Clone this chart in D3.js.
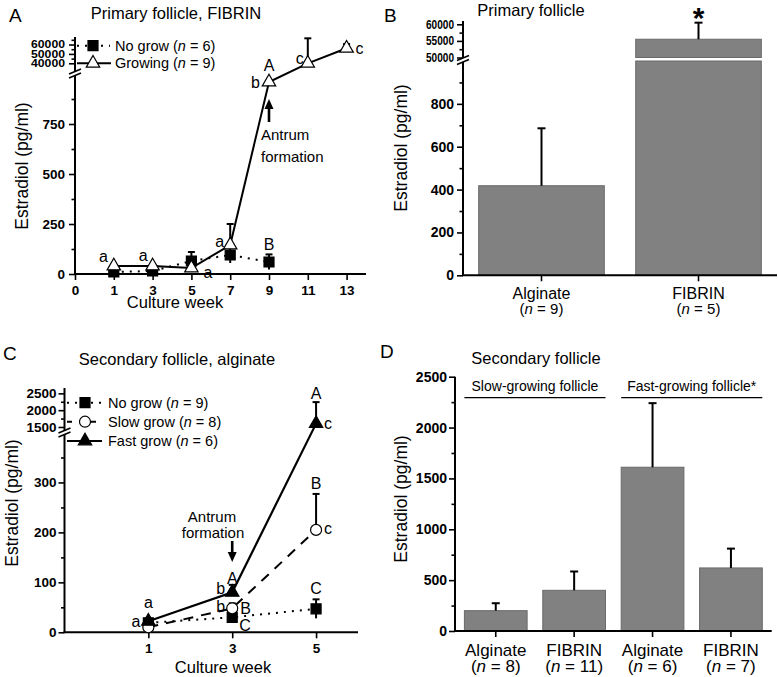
<!DOCTYPE html>
<html><head><meta charset="utf-8">
<script src="https://cdn.jsdelivr.net/npm/d3@7"></script>
<style>
body{margin:0;background:#fff;}
svg text{font-family:'Liberation Sans',Arial,sans-serif;fill:#000;}
</style></head><body>
<svg id="c" width="778" height="677"></svg>
<script>
// ---------- Panel A data ----------
const weeksA = [1,3,5,7,9,11,13];
const growingA = [40,40,30,145,960,40000,56000];
const growingAErr = [6,6,6,105,0,26600,4500];
const weeksANoGrow = [1,3,5,7,9];
const noGrowA = [10,15,65,95,60];
const noGrowAErr = [5,5,45,40,38];
const xTicksA = [-1,1,3,5,7,9,11,13];
const xTickLabelsA = ["0","1","3","5","7","9","11","13"];
const yLowTicksA = [0,250,500,750];
const yLowMinorA = [125,375,625,875];
const yUpTicksA = [40000,50000,60000];
const yUpMinorA = [45000,55000,65000];
const lettersA = [
  {t:"a", w:1, v:40, dx:-6, dy:-4, a:"end"},
  {t:"a", w:3, v:40, dx:-5, dy:-5, a:"end"},
  {t:"a", w:5, v:30, dx:12, dy:10, a:"start"},
  {t:"a", w:7, v:145, dx:-6, dy:2, a:"end"},
  {t:"B", w:9, v:60, dx:0, dy:-12, a:"middle"},
  {t:"A", w:9, v:960, dx:0, dy:-11, a:"middle"},
  {t:"b", w:9, v:960, dx:-9, dy:6, a:"end"},
  {t:"c", w:11, v:40000, dx:-4, dy:1, a:"end"},
  {t:"c", w:13, v:56000, dx:9, dy:6, a:"start"}
];

// ---------- Panel B data ----------
const catB = ["Alginate","FIBRIN"];
const nB = [9,5];
const valB = [418,55500];
const errB = [268,5000];
const yLowTicksB = [0,200,400,600,800];
const yLowMinorB = [100,300,500,700,900];
const yUpTicksB = [50000,55000,60000];
const yUpMinorB = [52500,57500];

// ---------- Panel C data ----------
const weeksC = [1,3,5];
const noGrowC = [19,30,47];
const noGrowCErr = [3,5,19];
const slowC = [10,48,205];
const slowCErr = [3,10,72];
const fastC = [22,80,1600];
const fastCErr = [4,15,640];
const xTicksC = [1,3,5];
const yLowTicksC = [0,100,200,300];
const yLowMinorC = [50,150,250,350];
const yUpTicksC = [1500,2000,2500];
const yUpMinorC = [1750,2250];
const lettersC = [
  {t:"a", w:1, v:22, dx:0, dy:-13, a:"middle"},
  {t:"a", w:1, v:10, dx:-8, dy:0, a:"end"},
  {t:"A", w:3, v:80, dx:0, dy:-8, a:"middle"},
  {t:"b", w:3, v:80, dx:-7, dy:2, a:"end"},
  {t:"b", w:3, v:48, dx:-7, dy:4, a:"end"},
  {t:"B", w:3, v:48, dx:8, dy:6, a:"start"},
  {t:"C", w:3, v:30, dx:7, dy:14, a:"start"},
  {t:"A", w:5, v:2240, dx:0, dy:-3, a:"middle"},
  {t:"c", w:5, v:1600, dx:8, dy:5, a:"start"},
  {t:"B", w:5, v:277, dx:0, dy:-5, a:"middle"},
  {t:"c", w:5, v:205, dx:8, dy:4, a:"start"},
  {t:"C", w:5, v:67, dx:0, dy:-5, a:"middle"}
];

// ---------- Panel D data ----------
const catD = ["Alginate","FIBRIN","Alginate","FIBRIN"];
const nD = [8,11,6,7];
const valD = [200,400,1610,620];
const errD = [73,185,630,190];
const groupsD = ["Slow-growing follicle","Fast-growing follicle*"];
const yTicksD = [0,500,1000,1500,2000,2500];
const yMinorD = [250,750,1250,1750,2250];

// ---------- helpers ----------
const FONT = "'Liberation Sans',Arial,sans-serif";
const svg = d3.select("#c");
svg.append("rect").attr("width",778).attr("height",677).attr("fill","#fff");

function styleAxis(sel, fs){
  sel.select(".domain").remove();
  sel.selectAll(".tick line").attr("stroke","#000").attr("stroke-width",1.6);
  sel.selectAll(".tick text").attr("font-size",fs).attr("font-weight","bold")
    .attr("font-family",FONT).attr("fill","#000");
}
function yAx(x0, scale, ticks, minor, fs, pad, tlen){
  const a = svg.append("g").attr("transform",`translate(${x0},0)`)
    .call(d3.axisLeft(scale).tickValues(ticks).tickSize(6).tickPadding(pad).tickFormat(d3.format("d")));
  styleAxis(a, fs);
  if(tlen) a.selectAll(".tick text").attr("textLength",tlen).attr("lengthAdjust","spacingAndGlyphs");
  if(minor){
    const m = svg.append("g").attr("transform",`translate(${x0},0)`)
      .call(d3.axisLeft(scale).tickValues(minor).tickSize(3.5).tickFormat(""));
    styleAxis(m, fs);
  }
  return a;
}
function line(x1,y1,x2,y2,w){
  return svg.append("line").attr("x1",x1).attr("y1",y1).attr("x2",x2).attr("y2",y2)
    .attr("stroke","#000").attr("stroke-width",w||2);
}
function breakMark(x,y){
  svg.append("polygon").attr("points",`${x-6},${y+1} ${x+6},${y-4} ${x+6},${y} ${x-6},${y+5}`).attr("fill","#fff");
  line(x-6,y+1,x+6,y-4,1.5);
  line(x-6,y+5,x+6,y,1.5);
}
function txt(x,y,s,fs,anchor,opts){
  const t = svg.append("text").attr("x",x).attr("y",y).attr("font-size",fs)
    .attr("text-anchor",anchor||"start").text(s);
  if(opts&&opts.bold) t.attr("font-weight","bold");
  return t;
}
function rotTxt(x,y,s,fs){
  svg.append("text").attr("transform",`translate(${x},${y}) rotate(-90)`)
    .attr("font-size",fs).attr("text-anchor","middle").text(s);
}
function nText(x,y,name,n,fs,anchor){
  const t = svg.append("text").attr("x",x).attr("y",y).attr("font-size",fs).attr("text-anchor",anchor||"start");
  if(name) t.append("tspan").text(name+" (");
  else t.append("tspan").text("(");
  t.append("tspan").attr("font-style","italic").text("n");
  t.append("tspan").text(" = "+n+")");
}
function errBar(x,y0,y1,cap){
  line(x,y0,x,y1,2);
  line(x-cap/2,y1,x+cap/2,y1,2);
}
function marker(type,x,y,fill){
  let sym, size;
  if(type==="square"){sym=d3.symbolSquare;size=100;}
  else if(type==="triangle"){sym=d3.symbolTriangle;size=78;}
  else {sym=d3.symbolCircle;size=95;}
  svg.append("path").attr("d",d3.symbol().type(sym).size(size)())
    .attr("transform",`translate(${x},${y})`)
    .attr("fill",fill).attr("stroke","#000").attr("stroke-width",1.2);
}
function arrow(x,yTail,yHead){
  const dir = yHead<yTail ? -1 : 1;
  line(x,yTail,x,yHead-dir*8,2.6);
  svg.append("path").attr("d",`M${x},${yHead} L${x-4.5},${yHead-dir*10} L${x+4.5},${yHead-dir*10} Z`).attr("fill","#000");
}

// ============ PANEL A ============
{
  const x = d3.scaleLinear().domain([-1,14]).range([75,366]);
  const yLow = d3.scaleLinear().domain([0,980]).range([274,78]);
  const yUp = d3.scaleLinear().domain([35000,68000]).range([68,37]);
  const y = v => v>980 ? yUp(v) : yLow(v);

  txt(9,22,"A",19);
  txt(176,18.5,"Primary follicle, FIBRIN",16.5,"middle");

  line(75,37,75,274,2);
  line(74,274,366,274,2);
  yAx(75,yLow,yLowTicksA,yLowMinorA,13.5,4);
  yAx(75,yUp,yUpTicksA,yUpMinorA,10.5,4,34);
  breakMark(75,73);
  const xa = svg.append("g").attr("transform","translate(0,274)")
    .call(d3.axisBottom(x).tickValues(xTicksA).tickSize(6).tickPadding(5).tickFormat((d,i)=>xTickLabelsA[i]));
  styleAxis(xa,13.5);
  txt(175,308,"Culture week",16.5,"middle");
  rotTxt(28,166,"Estradiol (pg/ml)",17.5);

  weeksANoGrow.forEach((w,i)=>{ errBar(x(w),y(noGrowA[i]-noGrowAErr[i]),y(noGrowA[i]+noGrowAErr[i]),7); });
  weeksA.forEach((w,i)=>{ if(growingAErr[i]>0) errBar(x(w),y(growingA[i]),y(growingA[i]+growingAErr[i]),7); });

  const ln = d3.line().x(d=>x(d[0])).y(d=>y(d[1]));
  svg.append("path").attr("d",ln(weeksANoGrow.map((w,i)=>[w,noGrowA[i]])))
    .attr("fill","none").attr("stroke","#000").attr("stroke-width",2).attr("stroke-dasharray","2,6");
  svg.append("path").attr("d",ln(weeksA.map((w,i)=>[w,growingA[i]])))
    .attr("fill","none").attr("stroke","#000").attr("stroke-width",2);
  weeksANoGrow.forEach((w,i)=>marker("square",x(w),y(noGrowA[i]),"#000"));
  weeksA.forEach((w,i)=>marker("triangle",x(w),y(growingA[i]),"#fff"));

  lettersA.forEach(L=>txt(x(L.w)+L.dx,y(L.v)+L.dy,L.t,16,L.a));

  arrow(x(9),122,99);
  txt(261,140,"Antrum",15);
  txt(261,161.5,"formation",15);

  line(77,45.7,110,45.7,2).attr("stroke-dasharray","2,6");
  marker("square",93,45.7,"#000");
  nText(115,50.7,"No grow",6,14.5);
  line(77,63.3,111,63.3,2);
  marker("triangle",93,63.3,"#fff");
  nText(115,68.3,"Growing",9,14.5);
}

// ============ PANEL B ============
{
  const x = d3.scaleBand().domain(catB).range([463,777]).paddingInner(0.2).paddingOuter(0.1);
  const yLow = d3.scaleLinear().domain([0,1000]).range([275.3,61]);
  const yUp = d3.scaleLinear().domain([50000,61000]).range([57.5,21]);
  const y = v => v>1000 ? yUp(v) : yLow(v);

  txt(384,22,"B",19);
  txt(531,16,"Primary follicle",16.5,"middle");

  catB.forEach((c,i)=>{
    const v = valB[i], x0 = x(c), bw = x.bandwidth();
    if(v>1000){
      svg.append("rect").attr("x",x0).attr("y",yLow.range()[1]).attr("width",bw)
        .attr("height",yLow(0)-yLow.range()[1]).attr("fill","#818181").attr("stroke","#6a6a6a");
      svg.append("rect").attr("x",x0).attr("y",yUp(v)).attr("width",bw)
        .attr("height",yUp.range()[0]-yUp(v)).attr("fill","#818181").attr("stroke","#6a6a6a");
    } else {
      svg.append("rect").attr("x",x0).attr("y",yLow(v)).attr("width",bw)
        .attr("height",yLow(0)-yLow(v)).attr("fill","#818181").attr("stroke","#6a6a6a");
    }
    errBar(x0+bw/2,y(v),y(v+errB[i]),8);
  });

  line(463,21,463,275.3,2);
  line(462,275.3,777,275.3,2);
  yAx(463,yLow,yLowTicksB,yLowMinorB,14,3);
  yAx(463,yUp,yUpTicksB,yUpMinorB,12.5,3,28);
  breakMark(463,59.5);
  const xa = svg.append("g").attr("transform","translate(0,275.3)")
    .call(d3.axisBottom(x).tickSize(6).tickFormat(""));
  styleAxis(xa,14);
  catB.forEach((c,i)=>{
    const cx = x(c)+x.bandwidth()/2;
    txt(cx,299,c,16,"middle");
    nText(cx,313.5,null,nB[i],15,"middle");
  });
  txt(x("FIBRIN")+x.bandwidth()/2,28,"*",30,"middle",{bold:true});
  rotTxt(406.5,148,"Estradiol (pg/ml)",17.5);
}

// ============ PANEL C ============
{
  const x = d3.scaleLinear().domain([-1,6]).range([64.5,358]);
  const yLow = d3.scaleLinear().domain([0,395]).range([632.3,435]);
  const yUp = d3.scaleLinear().domain([1410,2660]).range([430,388]);
  const y = v => v>395 ? yUp(v) : yLow(v);

  txt(3,360,"C",19);
  txt(177,365,"Secondary follicle, alginate",16.5,"middle");

  line(64.5,388,64.5,632.3,2);
  line(63.5,632.3,358,632.3,2);
  yAx(64.5,yLow,yLowTicksC,yLowMinorC,13.5,2);
  yAx(64.5,yUp,yUpTicksC,yUpMinorC,13.5,2);
  breakMark(64.5,432);
  const xa = svg.append("g").attr("transform","translate(0,632.3)")
    .call(d3.axisBottom(x).tickValues(xTicksC).tickSize(6).tickPadding(5).tickFormat(d3.format("d")));
  styleAxis(xa,13.5);
  txt(223,673,"Culture week",16.5,"middle");
  rotTxt(18,503,"Estradiol (pg/ml)",17.5);

  weeksC.forEach((w,i)=>{
    errBar(x(w),y(noGrowC[i]-noGrowCErr[i]),y(noGrowC[i]+noGrowCErr[i]),7);
    errBar(x(w),y(slowC[i]),y(slowC[i]+slowCErr[i]),7);
    errBar(x(w),y(fastC[i]),y(fastC[i]+fastCErr[i]),7);
  });
  const ln = d3.line().x((d,i)=>x(weeksC[i])).y(d=>y(d));
  svg.append("path").attr("d",ln(noGrowC)).attr("fill","none").attr("stroke","#000")
    .attr("stroke-width",2).attr("stroke-dasharray","2,6");
  svg.append("path").attr("d",ln(slowC)).attr("fill","none").attr("stroke","#000")
    .attr("stroke-width",2).attr("stroke-dasharray","10,8");
  svg.append("path").attr("d",ln(fastC)).attr("fill","none").attr("stroke","#000")
    .attr("stroke-width",2.2);
  weeksC.forEach((w,i)=>{
    marker("square",x(w),y(noGrowC[i]),"#000");
    marker("circle",x(w),y(slowC[i]),"#fff");
    marker("triangle",x(w),y(fastC[i]),"#000");
  });
  lettersC.forEach(L=>txt(x(L.w)+L.dx,y(L.v)+L.dy,L.t,16,L.a));

  arrow(x(3),541,562);
  txt(212,522,"Antrum",15,"middle");
  txt(213,538,"formation",15,"middle");

  line(67,402.7,101,402.7,2).attr("stroke-dasharray","2,6");
  marker("square",85,402.7,"#000");
  nText(108,407.7,"No grow",9,14.5);
  line(67,421.7,103,421.7,2).attr("stroke-dasharray","5,7");
  marker("circle",85,421.7,"#fff");
  nText(108,426.7,"Slow grow",8,14.5);
  line(67,441,102,441,2.2);
  marker("triangle",85,441,"#000");
  nText(108,446,"Fast grow",6,14.5);
}

// ============ PANEL D ============
{
  const idx = d3.range(catD.length);
  const x = d3.scaleBand().domain(idx).range([455,771.7]).paddingInner(0.2).paddingOuter(0.12);
  const y = d3.scaleLinear().domain([0,2500]).range([631,376.7]);

  txt(380,358,"D",19);
  txt(536,364,"Secondary follicle",16.5,"middle");

  idx.forEach(i=>{
    svg.append("rect").attr("x",x(i)).attr("y",y(valD[i])).attr("width",x.bandwidth())
      .attr("height",y(0)-y(valD[i])).attr("fill","#818181").attr("stroke","#6a6a6a");
    errBar(x(i)+x.bandwidth()/2,y(valD[i]),y(valD[i]+errD[i]),8);
  });

  line(455,376.7,455,631,2);
  line(454,631,771.7,631,2);
  yAx(455,y,yTicksD,yMinorD,14,2);
  const xa = svg.append("g").attr("transform","translate(0,631)")
    .call(d3.axisBottom(x).tickSize(6).tickFormat(""));
  styleAxis(xa,14);
  idx.forEach(i=>{
    const cx = x(i)+x.bandwidth()/2;
    txt(cx,655.5,catD[i],17,"middle");
    nText(cx,672,null,nD[i],17,"middle");
  });
  groupsD.forEach((g,k)=>{
    const a = x(2*k), b = x(2*k+1)+x.bandwidth();
    txt((a+b)/2,390.7,g,14,"middle");
    line(a,397.7,b,397.7,1.3);
  });
  rotTxt(406.5,499,"Estradiol (pg/ml)",17.5);
}
</script>
</body></html>
